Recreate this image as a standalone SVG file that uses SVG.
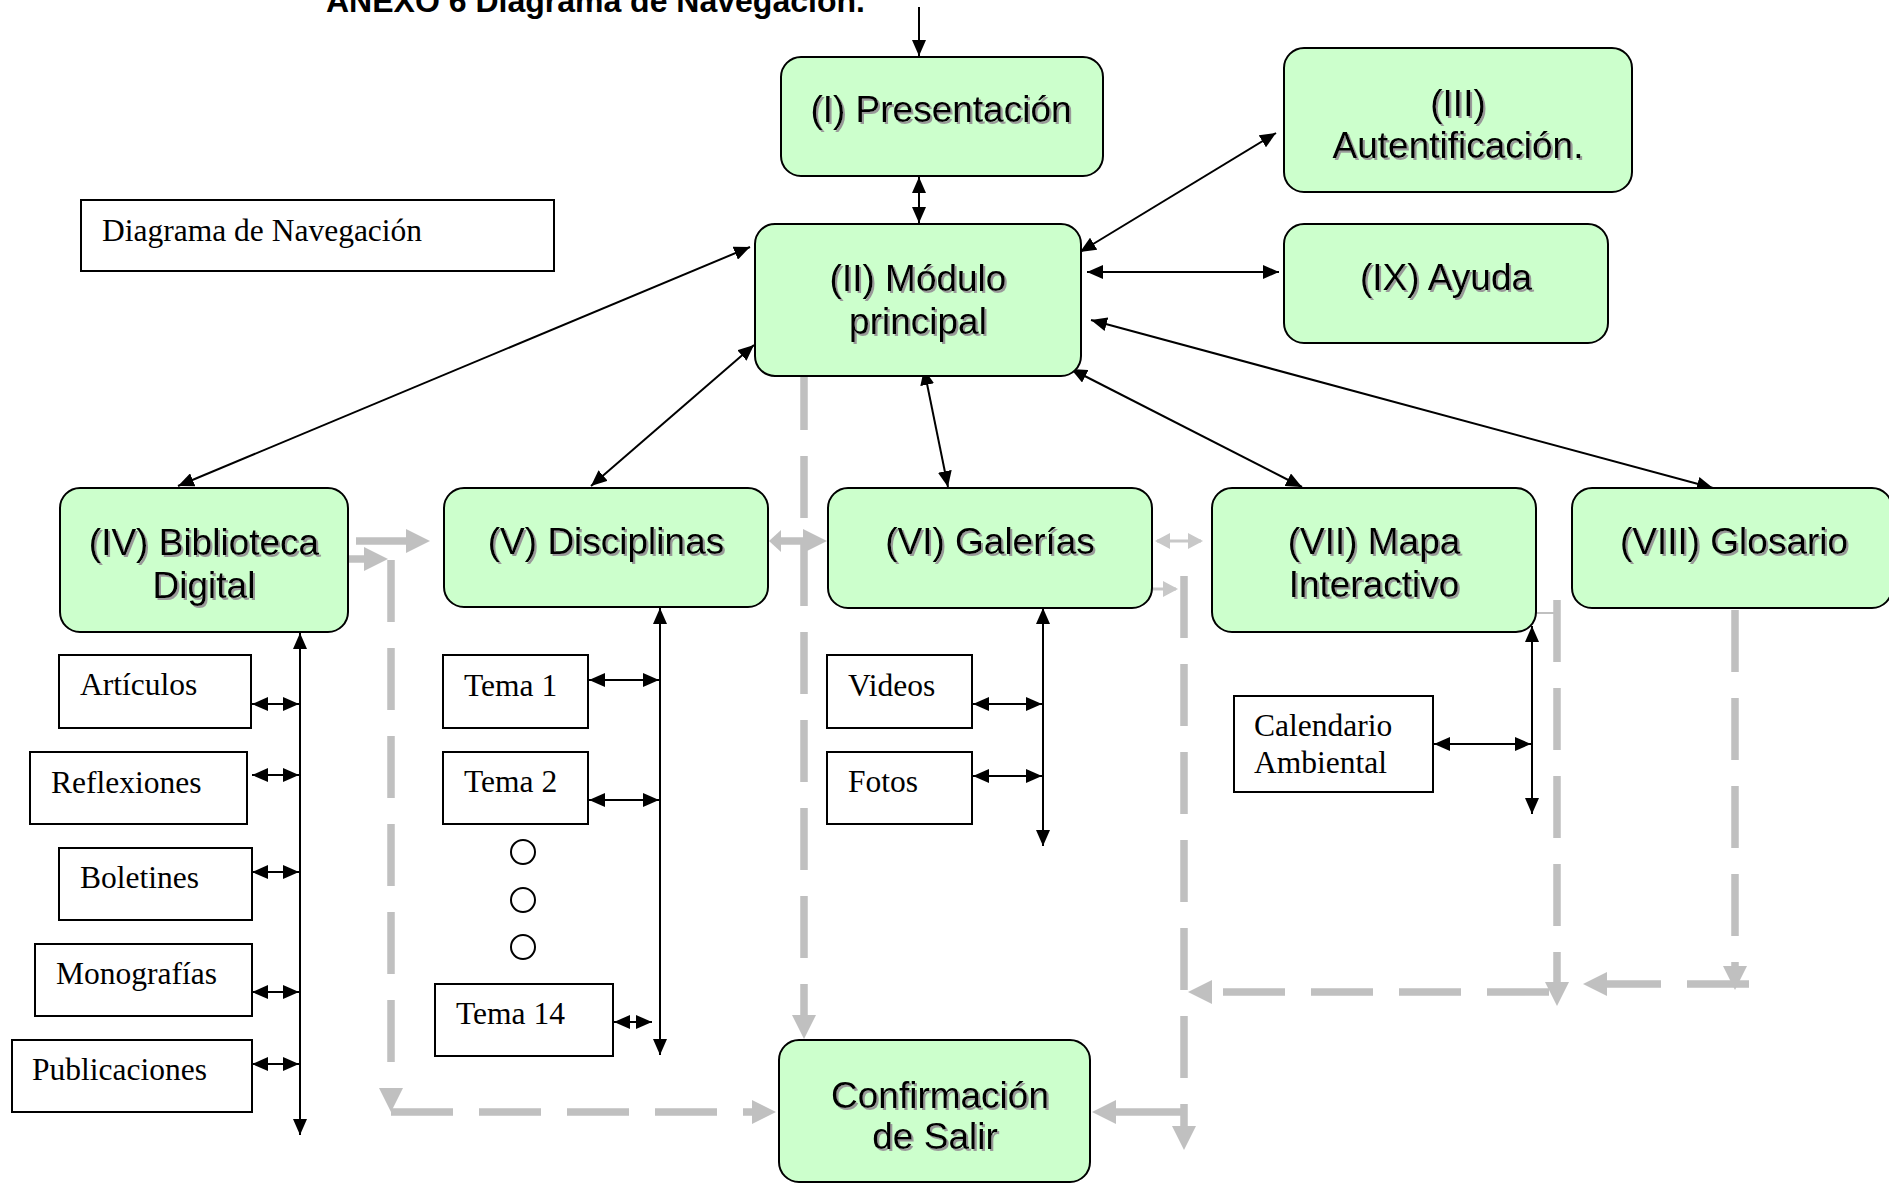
<svg xmlns="http://www.w3.org/2000/svg" width="1889" height="1184" viewBox="0 0 1889 1184">
  <style>
    .g { fill: #ccffcc; stroke: #000; stroke-width: 2; }
    .w { fill: #fff; stroke: #000; stroke-width: 2; }
    .gt { font-family: "Liberation Sans", Arial, sans-serif; font-size: 37px; text-anchor: middle; fill: #000; filter: url(#ts); }
    .st { font-family: "Liberation Serif", "Times New Roman", serif; font-size: 31.5px; fill: #000; }
    .title { font-family: "Liberation Sans", Arial, sans-serif; font-weight: bold; font-size: 32px; fill: #000; }
    .bl { stroke: #000; stroke-width: 2; fill: none; }
    .gr { stroke: #c0c0c0; stroke-width: 7.5; fill: none; }
    .gd { stroke: #c0c0c0; stroke-width: 7.5; fill: none; stroke-dasharray: 62 26; }
    .gthin { stroke: #c8c8c8; stroke-width: 3; fill: none; }
  </style>
  <defs>
    <filter id="ts" x="-5%" y="-20%" width="115%" height="150%">
      <feOffset in="SourceAlpha" dx="1.5" dy="1.5" result="off"/>
      <feFlood flood-color="#999"/>
      <feComposite in2="off" operator="in" result="shadow"/>
      <feMerge><feMergeNode in="shadow"/><feMergeNode in="SourceGraphic"/></feMerge>
    </filter>
    <marker id="ah" viewBox="0 0 16 14" refX="16" refY="7" markerWidth="16" markerHeight="14" markerUnits="userSpaceOnUse" orient="auto-start-reverse">
      <path d="M0,0L16,7L0,14z" fill="#000"/>
    </marker>
    <marker id="gh" viewBox="0 0 24 24" refX="14" refY="12" markerWidth="24" markerHeight="24" markerUnits="userSpaceOnUse" orient="auto-start-reverse">
      <path d="M0,0L24,12L0,24z" fill="#c0c0c0"/>
    </marker>
    <marker id="gs" viewBox="0 0 15 16" refX="13" refY="8" markerWidth="15" markerHeight="16" markerUnits="userSpaceOnUse" orient="auto-start-reverse">
      <path d="M0,0L15,8L0,16z" fill="#c8c8c8"/>
    </marker>
  </defs>

  <rect width="1889" height="1184" fill="#fff"/>

  <text class="title" x="326" y="12">ANEXO 6 Diagrama de Navegación.</text>

  <!-- flow connectors (grey, drawn under the nodes) -->
  <g id="flow-connectors">
    <line class="gr" x1="356" y1="541" x2="420" y2="541" marker-end="url(#gh)"/>
    <line class="gr" x1="348" y1="559" x2="378" y2="559" marker-end="url(#gh)"/>
    <line class="gd" x1="391" y1="560" x2="391" y2="1102" marker-end="url(#gh)"/>
    <line class="gd" x1="391" y1="1112" x2="766" y2="1112" marker-end="url(#gh)"/>
    <line class="gr" x1="781" y1="541" x2="817" y2="541" marker-end="url(#gh)"/>
    <path d="M769,541L781,530L781,552z" fill="#c0c0c0"/>
    <line class="gd" x1="804" y1="368" x2="804" y2="1029" marker-end="url(#gh)"/>
    <line class="gthin" x1="1157" y1="541" x2="1201" y2="541" marker-start="url(#gs)" marker-end="url(#gs)"/>
    <line class="gthin" x1="1152" y1="589" x2="1176" y2="589" marker-end="url(#gs)"/>
    <line class="gd" x1="1184" y1="576" x2="1184" y2="1140" marker-end="url(#gh)"/>
    <line class="gr" x1="1182" y1="1112" x2="1102" y2="1112" marker-end="url(#gh)"/>
    <line class="gd" x1="1549" y1="992" x2="1198" y2="992" marker-end="url(#gh)"/>
    <line class="gd" x1="1557" y1="600" x2="1557" y2="996" marker-end="url(#gh)"/>
    <line stroke="#c0c0c0" stroke-width="2" x1="1536" y1="613" x2="1557" y2="613"/>
    <line class="gd" x1="1735" y1="610" x2="1735" y2="980" marker-end="url(#gh)"/>
    <line class="gd" x1="1749" y1="984" x2="1593" y2="984" marker-end="url(#gh)"/>
  </g>

  <!-- navigation connectors (black) -->
  <g id="nav-connectors">
    <line class="bl" x1="919" y1="7" x2="919" y2="56" marker-end="url(#ah)"/>
    <line class="bl" x1="919" y1="177" x2="919" y2="223" marker-start="url(#ah)" marker-end="url(#ah)"/>
    <line class="bl" x1="1080" y1="252" x2="1276" y2="133" marker-start="url(#ah)" marker-end="url(#ah)"/>
    <line class="bl" x1="1087" y1="272" x2="1279" y2="272" marker-start="url(#ah)" marker-end="url(#ah)"/>
    <line class="bl" x1="1091" y1="320" x2="1713" y2="488" marker-start="url(#ah)" marker-end="url(#ah)"/>
    <line class="bl" x1="1071" y1="369" x2="1302" y2="487" marker-start="url(#ah)" marker-end="url(#ah)"/>
    <line class="bl" x1="924" y1="369" x2="948" y2="487" marker-start="url(#ah)" marker-end="url(#ah)"/>
    <line class="bl" x1="754" y1="345" x2="591" y2="486" marker-start="url(#ah)" marker-end="url(#ah)"/>
    <line class="bl" x1="750" y1="247" x2="178" y2="486" marker-start="url(#ah)" marker-end="url(#ah)"/>

    <!-- Biblioteca sub-items -->
    <line class="bl" x1="300" y1="633" x2="300" y2="1135" marker-start="url(#ah)" marker-end="url(#ah)"/>
    <line class="bl" x1="252" y1="704" x2="299" y2="704" marker-start="url(#ah)" marker-end="url(#ah)"/>
    <line class="bl" x1="252" y1="775" x2="299" y2="775" marker-start="url(#ah)" marker-end="url(#ah)"/>
    <line class="bl" x1="252" y1="872" x2="299" y2="872" marker-start="url(#ah)" marker-end="url(#ah)"/>
    <line class="bl" x1="252" y1="992" x2="299" y2="992" marker-start="url(#ah)" marker-end="url(#ah)"/>
    <line class="bl" x1="252" y1="1064" x2="299" y2="1064" marker-start="url(#ah)" marker-end="url(#ah)"/>

    <!-- Disciplinas sub-items -->
    <line class="bl" x1="660" y1="608" x2="660" y2="1055" marker-start="url(#ah)" marker-end="url(#ah)"/>
    <line class="bl" x1="589" y1="680" x2="659" y2="680" marker-start="url(#ah)" marker-end="url(#ah)"/>
    <line class="bl" x1="589" y1="800" x2="659" y2="800" marker-start="url(#ah)" marker-end="url(#ah)"/>
    <line class="bl" x1="614" y1="1022" x2="652" y2="1022" marker-start="url(#ah)" marker-end="url(#ah)"/>

    <!-- Galerías sub-items -->
    <line class="bl" x1="1043" y1="608" x2="1043" y2="846" marker-start="url(#ah)" marker-end="url(#ah)"/>
    <line class="bl" x1="973" y1="704" x2="1042" y2="704" marker-start="url(#ah)" marker-end="url(#ah)"/>
    <line class="bl" x1="973" y1="776" x2="1042" y2="776" marker-start="url(#ah)" marker-end="url(#ah)"/>

    <!-- Mapa sub-items -->
    <line class="bl" x1="1532" y1="626" x2="1532" y2="814" marker-start="url(#ah)" marker-end="url(#ah)"/>
    <line class="bl" x1="1434" y1="744" x2="1531" y2="744" marker-start="url(#ah)" marker-end="url(#ah)"/>
  </g>

  <g id="legend">
    <rect class="w" x="81" y="200" width="473" height="71"/>
    <text class="st" x="102" y="241">Diagrama de Navegación</text>
  </g>

  <g id="presentacion">
    <rect class="g" x="781" y="57" width="322" height="119" rx="20"/>
    <text class="gt" x="941" y="122">(I) Presentación</text>
  </g>
  <g id="modulo-principal">
    <rect class="g" x="755" y="224" width="326" height="152" rx="20"/>
    <text class="gt" x="918" y="291">(II) Módulo</text>
    <text class="gt" x="918" y="334">principal</text>
  </g>
  <g id="autentificacion">
    <rect class="g" x="1284" y="48" width="348" height="144" rx="20"/>
    <text class="gt" x="1458" y="116">(III)</text>
    <text class="gt" x="1458" y="158">Autentificación.</text>
  </g>
  <g id="ayuda">
    <rect class="g" x="1284" y="224" width="324" height="119" rx="20"/>
    <text class="gt" x="1446" y="290">(IX) Ayuda</text>
  </g>
  <g id="biblioteca">
    <rect class="g" x="60" y="488" width="288" height="144" rx="20"/>
    <text class="gt" x="204" y="555">(IV) Biblioteca</text>
    <text class="gt" x="204" y="598">Digital</text>
  </g>
  <g id="disciplinas">
    <rect class="g" x="444" y="488" width="324" height="119" rx="20"/>
    <text class="gt" x="606" y="554">(V) Disciplinas</text>
  </g>
  <g id="galerias">
    <rect class="g" x="828" y="488" width="324" height="120" rx="20"/>
    <text class="gt" x="990" y="554">(VI) Galerías</text>
  </g>
  <g id="mapa-interactivo">
    <rect class="g" x="1212" y="488" width="324" height="144" rx="20"/>
    <text class="gt" x="1374" y="554">(VII) Mapa</text>
    <text class="gt" x="1374" y="597">Interactivo</text>
  </g>
  <g id="glosario">
    <rect class="g" x="1572" y="488" width="320" height="120" rx="20"/>
    <text class="gt" x="1734" y="554">(VIII) Glosario</text>
  </g>
  <g id="confirmacion-salir">
    <rect class="g" x="779" y="1040" width="311" height="142" rx="20"/>
    <text class="gt" x="940" y="1108" textLength="218" lengthAdjust="spacingAndGlyphs">Confirmación</text>
    <text class="gt" x="935" y="1149">de Salir</text>
  </g>

  <g id="articulos"><rect class="w" x="59" y="655" width="192" height="73"/><text class="st" x="80" y="695">Artículos</text></g>
  <g id="reflexiones"><rect class="w" x="30" y="752" width="217" height="72"/><text class="st" x="51" y="793">Reflexiones</text></g>
  <g id="boletines"><rect class="w" x="59" y="848" width="193" height="72"/><text class="st" x="80" y="888">Boletines</text></g>
  <g id="monografias"><rect class="w" x="35" y="944" width="217" height="72"/><text class="st" x="56" y="984">Monografías</text></g>
  <g id="publicaciones"><rect class="w" x="12" y="1040" width="240" height="72"/><text class="st" x="32" y="1080">Publicaciones</text></g>

  <g id="tema-1"><rect class="w" x="443" y="655" width="145" height="73"/><text class="st" x="464" y="696">Tema 1</text></g>
  <g id="tema-2"><rect class="w" x="443" y="752" width="145" height="72"/><text class="st" x="464" y="792">Tema 2</text></g>
  <g id="temas-intermedios" fill="#fff" stroke="#000" stroke-width="2">
    <circle cx="523" cy="852" r="12"/>
    <circle cx="523" cy="900" r="12"/>
    <circle cx="523" cy="947" r="12"/>
  </g>
  <g id="tema-14"><rect class="w" x="435" y="984" width="178" height="72"/><text class="st" x="456" y="1024">Tema 14</text></g>

  <g id="videos"><rect class="w" x="827" y="655" width="145" height="73"/><text class="st" x="848" y="696">Videos</text></g>
  <g id="fotos"><rect class="w" x="827" y="752" width="145" height="72"/><text class="st" x="848" y="792">Fotos</text></g>

  <g id="calendario-ambiental">
    <rect class="w" x="1234" y="696" width="199" height="96"/>
    <text class="st" x="1254" y="736">Calendario</text>
    <text class="st" x="1254" y="773">Ambiental</text>
  </g>
</svg>
